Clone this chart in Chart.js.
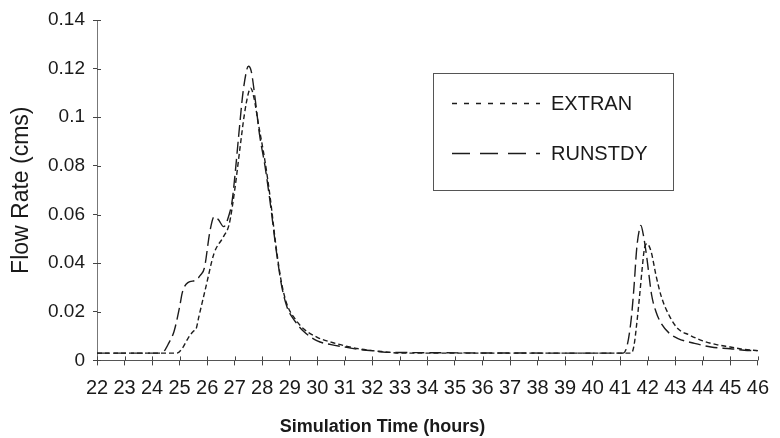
<!DOCTYPE html>
<html><head><meta charset="utf-8">
<script src="https://cdn.jsdelivr.net/npm/chart.js@4"></script>
<style>html,body{margin:0;padding:0;background:#fff}#wrap{width:780px;height:438px;position:relative}</style>
</head><body><div id="wrap"><canvas id="c" width="780" height="438"></canvas></div>
<script>
// ---- data ----
const seriesNames = ['EXTRAN', 'RUNSTDY'];
const extranTime = [22, 24.9, 25.1, 25.3, 25.5, 25.6, 25.7, 25.95, 26.25, 26.6, 26.8, 27.0, 27.2, 27.35, 27.5, 27.58, 27.7, 27.85, 28.1, 28.3, 28.5, 28.7, 28.9, 29.2, 29.5, 30, 30.5, 31, 31.5, 32, 32.5, 33, 41.4, 41.5, 41.6, 41.7, 41.8, 41.88, 41.97, 42.05, 42.14, 42.3, 42.5, 42.8, 43.1, 43.5, 44, 44.5, 45, 45.5, 46];
const extranFlow = [0.003, 0.003, 0.005, 0.009, 0.012, 0.013, 0.018, 0.030, 0.044, 0.051, 0.056, 0.070, 0.088, 0.101, 0.110, 0.112, 0.108, 0.098, 0.082, 0.066, 0.047, 0.032, 0.023, 0.017, 0.013, 0.0095, 0.0075, 0.006, 0.0048, 0.004, 0.0035, 0.003, 0.003, 0.006, 0.015, 0.026, 0.038, 0.046, 0.048, 0.047, 0.044, 0.035, 0.026, 0.018, 0.013, 0.0105, 0.008, 0.0065, 0.0055, 0.0045, 0.004];
const runstdyTime = [22, 24.3, 24.45, 24.6, 24.8, 25.0, 25.1, 25.3, 25.6, 25.75, 25.9, 26.1, 26.25, 26.4, 26.6, 26.8, 26.9, 27.0, 27.15, 27.3, 27.45, 27.5, 27.6, 27.75, 27.9, 28.1, 28.3, 28.5, 28.7, 28.9, 29.2, 29.5, 30, 30.5, 31, 31.5, 32, 32.5, 41.1, 41.25, 41.4, 41.5, 41.6, 41.7, 41.75, 41.85, 41.97, 42.14, 42.3, 42.5, 42.8, 43.1, 43.7, 44.3, 45, 45.5, 46];
const runstdyFlow = [0.003, 0.003, 0.004, 0.007, 0.012, 0.022, 0.028, 0.032, 0.033, 0.035, 0.038, 0.053, 0.059, 0.058, 0.055, 0.060, 0.065, 0.075, 0.093, 0.110, 0.120, 0.121, 0.119, 0.107, 0.093, 0.080, 0.064, 0.046, 0.031, 0.022, 0.016, 0.012, 0.008, 0.0065, 0.0055, 0.0045, 0.004, 0.0033, 0.003, 0.006, 0.017, 0.030, 0.046, 0.054, 0.0555, 0.051, 0.042, 0.027, 0.020, 0.015, 0.011, 0.009, 0.007, 0.0055, 0.0048, 0.0042, 0.004];
const xTickValues = [22, 23, 24, 25, 26, 27, 28, 29, 30, 31, 32, 33, 34, 35, 36, 37, 38, 39, 40, 41, 42, 43, 44, 45, 46];
const yTickValues = [0, 0.02, 0.04, 0.06, 0.08, 0.1, 0.12, 0.14];

const FONT = '"Liberation Sans", Arial, Helvetica, sans-serif';
const INK = '#1a1a1a';
const dashes = { EXTRAN: [5, 3], RUNSTDY: [12, 5] };
const legendDashes = { EXTRAN: [5, 7], RUNSTDY: [18, 10] };

function toPoints(t, f) { return t.map((x, i) => ({ x: x, y: f[i] })); }

const datasets = [
  { label: seriesNames[0], data: toPoints(extranTime, extranFlow), borderDash: dashes.EXTRAN },
  { label: seriesNames[1], data: toPoints(runstdyTime, runstdyFlow), borderDash: dashes.RUNSTDY }
].map(d => Object.assign(d, { borderColor: '#1c1c1c', borderWidth: 1.4, pointRadius: 0, fill: false, cubicInterpolationMode: 'monotone' }));

const innerTicks = {
  id: 'innerTicks',
  afterDraw(chart) {
    const ctx = chart.ctx, a = chart.chartArea;
    const xs = chart.scales.x, ys = chart.scales.y;
    ctx.save();
    ctx.strokeStyle = '#444'; ctx.lineWidth = 1;
    ctx.beginPath();
    xs.ticks.forEach(t => { const px = Math.round(xs.getPixelForValue(t.value)) + 0.5; ctx.moveTo(px, a.bottom); ctx.lineTo(px, a.bottom - 4); });
    ys.ticks.forEach(t => { const py = Math.round(ys.getPixelForValue(t.value)) + 0.5; ctx.moveTo(a.left, py); ctx.lineTo(a.left + 4, py); });
    ctx.stroke();
    ctx.restore();
  }
};

const boxLegend = {
  id: 'boxLegend',
  afterDraw(chart) {
    const ctx = chart.ctx;
    const bx = 433, by = 73, bw = 240, bh = 117;
    ctx.save();
    ctx.strokeStyle = '#555'; ctx.lineWidth = 1;
    ctx.strokeRect(bx + 0.5, by + 0.5, bw, bh);
    const rows = [103, 153];
    chart.data.datasets.forEach((ds, i) => {
      const y = rows[i] + 0.5;
      ctx.strokeStyle = '#1c1c1c'; ctx.lineWidth = 1.3;
      ctx.setLineDash(legendDashes[ds.label]);
      ctx.beginPath(); ctx.moveTo(452, y); ctx.lineTo(540, y); ctx.stroke();
      ctx.setLineDash([]);
      ctx.fillStyle = INK; ctx.font = '20px ' + FONT; ctx.textBaseline = 'middle'; ctx.textAlign = 'left';
      ctx.fillText(ds.label, 551, rows[i] + 1);
    });
    ctx.restore();
  }
};

new Chart(document.getElementById('c'), {
  type: 'line',
  data: { datasets: datasets },
  plugins: [innerTicks, boxLegend],
  options: {
    responsive: false,
    devicePixelRatio: 1,
    animation: false,
    layout: { padding: { left: 0, right: 15, top: 20, bottom: 0 } },
    plugins: {
      legend: { display: false },
      tooltip: { enabled: false },
      title: { display: true, text: 'Simulation Time (hours)', position: 'bottom', color: INK,
               font: { family: FONT, size: 18, weight: 'bold' }, padding: { top: 0, bottom: 0 } }
    },
    scales: {
      x: {
        type: 'linear', min: xTickValues[0], max: xTickValues[xTickValues.length - 1],
        afterBuildTicks: s => { s.ticks = xTickValues.map(v => ({ value: v })); },
        afterFit: s => { s.height = 56; },
        ticks: { autoSkip: false, maxRotation: 0, minRotation: 0, padding: 11, color: INK,
                 font: { family: FONT, size: 20 }, callback: v => String(v) },
        grid: { drawOnChartArea: false, drawTicks: true, tickLength: 5, color: '#444' },
        border: { display: true, color: '#555', width: 1 }
      },
      y: {
        min: yTickValues[0], max: yTickValues[yTickValues.length - 1],
        afterBuildTicks: s => { s.ticks = yTickValues.map(v => ({ value: v })); },
        afterFit: s => { s.width = 97; },
        ticks: { padding: 8, color: INK, font: { family: FONT, size: 19 }, callback: v => String(+v.toFixed(2)) },
        grid: { drawOnChartArea: false, drawTicks: true, tickLength: 4, color: '#444' },
        border: { display: true, color: '#777', width: 1, dash: [1, 1] },
        title: { display: true, text: 'Flow Rate (cms)', color: INK, font: { family: FONT, size: 23 }, padding: { top: 8, bottom: 0 } }
      }
    }
  }
});
</script></body></html>
